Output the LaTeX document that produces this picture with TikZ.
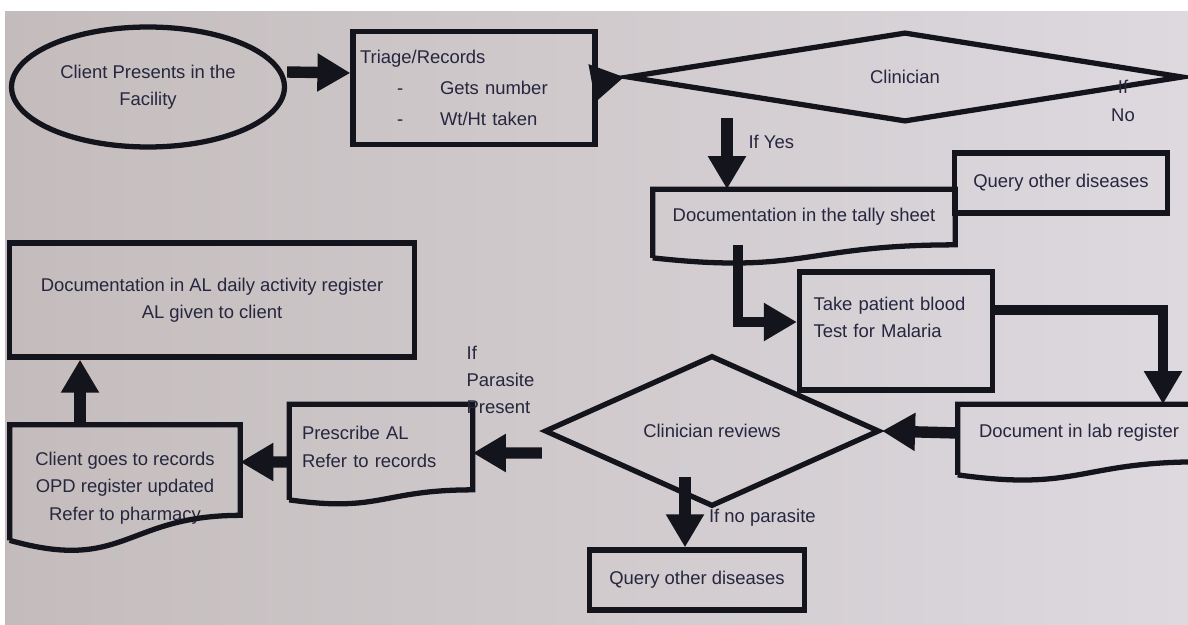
\documentclass[tikz,border=0pt]{standalone}
\usepackage{fontspec}
\setmainfont{Liberation Sans}
\usetikzlibrary{shapes.geometric,positioning,arrows.meta,calc}

\definecolor{ink}{RGB}{20,20,28}
\definecolor{txt}{RGB}{38,38,62}
\definecolor{bgl}{RGB}{196,188,188}
\definecolor{bgr}{RGB}{221,217,223}

% outline of a box whose lower edge is wavy: node, right lift, left lift (cm)
\newcommand\docbox[3]{%
  \draw[boxline] ([yshift=#3cm]#1.south west) -- (#1.north west)
    -- (#1.north east) -- ([yshift=#2cm]#1.south east)
    .. controls ([yshift=#2cm]#1.south) and ([yshift={(#3-1.3*(#2-(#3)))*1cm}]#1.south)
    .. ([yshift=#3cm]#1.south west);}

\begin{document}
\begin{tikzpicture}[x=0.02cm,y=-0.02cm,>={Triangle[width=0.72cm,length=0.66cm]},
  every node/.style={text=txt,font=\fontsize{10.5}{15.5}\selectfont},
  boxline/.style={draw=ink,line width=3pt},
  box/.style={boxline,rectangle,inner sep=2pt},
  docnode/.style={rectangle,inner sep=2pt},
  fat/.style={draw=ink,line width=6.5pt},
  elbow/.style={draw=ink,line width=5.5pt}]
  \useasboundingbox (0,0) rectangle (1188,625);
  \shade[left color=bgl,right color=bgr] (5,12) rectangle (1188,625);

  \node[boxline,ellipse,minimum width=5.46cm,minimum height=2.4cm,align=center] (client) at (148,87)
    {Client Presents in the\\Facility};
  \node[box,minimum width=4.84cm,minimum height=2.26cm,text width=4.56cm,align=left] (triage) at (474,88)
    {Triage/Records\\[2pt]\hspace{0.74cm}\makebox[0.86cm][l]{-}Gets number\\[2pt]\hspace{0.74cm}\makebox[0.86cm][l]{-}Wt/Ht taken};
  \node[boxline,diamond,minimum width=11.12cm,minimum height=1.8cm,inner sep=0pt] (clin) at (905,77) {Clinician};
  \node[align=center] (ifno) at (1123,101) {If\\No};
  \node[docnode,minimum width=6.04cm,minimum height=1.1cm] (tally) at (804,217) {Documentation in the tally sheet};
  \node[box,minimum width=4.26cm,minimum height=1.2cm] (queryA) at (1061,183) {Query other diseases};
  \node[box,minimum width=3.86cm,minimum height=2.36cm,text width=3.3cm,align=left] (take) at (896,331)
    {Take patient blood\\Test for Malaria\\\mbox{}};
  \node[docnode,minimum width=4.84cm,minimum height=1.14cm] (lab) at (1079,433) {Document in lab register};
  \node[boxline,diamond,minimum width=6.7cm,minimum height=1.9cm,inner sep=0pt] (review) at (712,431) {Clinician reviews};
  \node[docnode,minimum width=3.66cm,minimum height=1.7cm,text width=3.16cm,align=left] (prescribe) at (381,447)
    {Prescribe AL\\Refer to records};
  \node[docnode,minimum width=4.6cm,minimum height=2.52cm,align=center] (records) at (125,488)
    {Client goes to records\\OPD register updated\\Refer to pharmacy};
  \node[box,minimum width=8.1cm,minimum height=2.28cm,align=center] (register) at (212,300)
    {Documentation in AL daily activity register\\AL given to client};
  \node[box,minimum width=4.3cm,minimum height=1.2cm] (queryB) at (697,580) {Query other diseases};

  \docbox{tally}{0}{-0.26}
  \docbox{lab}{0}{-0.26}
  \docbox{prescribe}{0}{-0.2}
  \docbox{records}{0.72}{0.22}

  \coordinate (up) at ([xshift=-0.9cm]records.north);
  \path[->]
    ([yshift=0.3cm]client.east) edge[fat] ([yshift=0.3cm]triage.west)
    ([yshift=0.12cm]triage.east) edge[fat] (clin.west)
    ($(tally.north)+(-77,-71)$) edge[fat] node[right=0.2cm,pos=0.34] {If Yes} ($(tally.north)+(-77,0)$)
    ($(tally.south west)+(85,0)$) edge[elbow,to path={|- (\tikztotarget)}] ([yshift=0.18cm]take.west)
    ([yshift=0.42cm]take.east) edge[elbow,to path={-| (\tikztotarget)}] ([xshift=1.68cm]lab.north)
    (lab.west) edge[fat] (review.east)
    ([yshift=-0.44cm]review.west) edge[fat] node[above=0.55cm,pos=0.6,align=left] {If\\Parasite\\Present}
      ([yshift=-0.12cm]prescribe.east)
    ([yshift=-0.3cm]prescribe.west) edge[fat] ([yshift=0.52cm]records.east)
    (up) edge[fat] (up |- register.south)
    ($(queryB.north)+(-12,-70)$) edge[fat] node[right=0.25cm,pos=0.57] {If no parasite} ($(queryB.north)+(-12,0)$);
\end{tikzpicture}
\end{document}
